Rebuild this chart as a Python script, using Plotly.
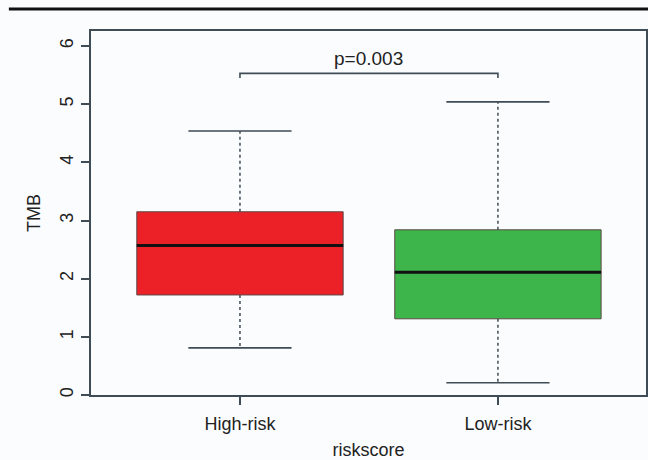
import plotly.graph_objects as go

# Tumour mutational burden by risk group (summary statistics per group)
groups = ["High-risk", "Low-risk"]
positions = [1, 2]
lower_whisker = [0.81, 0.21]
q1 = [1.72, 1.31]
median = [2.57, 2.11]
q3 = [3.15, 2.84]
upper_whisker = [4.54, 5.04]
fill_colors = ["#ec2027", "#3eb54a"]

# Significance bracket between the two groups
p_label = "p=0.003"
bracket_y = 5.53
bracket_drop = 0.08
p_label_y = 5.78

y_ticks = [0, 1, 2, 3, 4, 5, 6]

box_width = 0.8
staple_width = 0.4
line_col = "#3f4b55"
text_col = "#222222"
bg = "#fbfcfe"
font_family = "Liberation Sans, Arial, Helvetica, sans-serif"

fig = go.Figure()

for i, g in enumerate(groups):
    x0 = positions[i]
    # dotted whiskers
    fig.add_trace(go.Scatter(
        x=[x0, x0, None, x0, x0],
        y=[q3[i], upper_whisker[i], None, q1[i], lower_whisker[i]],
        mode="lines", line=dict(color=line_col, width=1.5, dash="dot"),
        hoverinfo="skip", showlegend=False))
    # staples
    fig.add_trace(go.Scatter(
        x=[x0 - staple_width / 2, x0 + staple_width / 2, None,
           x0 - staple_width / 2, x0 + staple_width / 2],
        y=[upper_whisker[i], upper_whisker[i], None,
           lower_whisker[i], lower_whisker[i]],
        mode="lines", line=dict(color=line_col, width=1.6),
        hoverinfo="skip", showlegend=False))
    # box body
    fig.add_trace(go.Box(
        x=[x0], q1=[q1[i]], median=[median[i]], q3=[q3[i]],
        lowerfence=[q1[i]], upperfence=[q3[i]],
        width=box_width, fillcolor=fill_colors[i],
        line=dict(color="#5a4a48", width=1), whiskerwidth=0,
        name=g, showlegend=False, boxpoints=False))
    # heavy median line
    fig.add_trace(go.Scatter(
        x=[x0 - box_width / 2, x0 + box_width / 2],
        y=[median[i], median[i]],
        mode="lines", line=dict(color="#111111", width=3),
        hoverinfo="skip", showlegend=False))

# bracket with p-value
fig.add_trace(go.Scatter(
    x=[positions[0], positions[0], positions[1], positions[1]],
    y=[bracket_y - bracket_drop, bracket_y, bracket_y, bracket_y - bracket_drop],
    mode="lines", line=dict(color=line_col, width=1.6),
    hoverinfo="skip", showlegend=False))
fig.add_annotation(x=(positions[0] + positions[1]) / 2, y=p_label_y,
                   text=p_label, showarrow=False,
                   font=dict(size=19, color=text_col, family=font_family))

# page rule above the figure
fig.add_shape(type="line", xref="paper", yref="paper",
              x0=-0.148, x1=1.01, y0=1.0 + 22 / 364, y1=1.0 + 22 / 364,
              line=dict(color="#111111", width=3))

fig.update_layout(
    width=648, height=460,
    margin=dict(l=91, r=2, t=31, b=65),
    paper_bgcolor=bg, plot_bgcolor=bg,
    font=dict(family=font_family, size=18, color=text_col),
    xaxis=dict(
        range=[0.4225, 2.574], tickmode="array", tickvals=positions,
        ticktext=groups, showgrid=False, zeroline=False, automargin=False,
        showline=True, mirror=True, linecolor=line_col, linewidth=1.6,
        ticks="outside", ticklen=8, tickcolor=line_col, tickwidth=1.6,
        ticklabelstandoff=4,
        tickfont=dict(size=18),
        title=dict(text="riskscore", font=dict(size=18), standoff=11)),
    yaxis=dict(
        range=[0, 6.258], tickmode="array", tickvals=y_ticks,
        showgrid=False, zeroline=False, tickangle=-90, automargin=False,
        showline=True, mirror=True, linecolor=line_col, linewidth=1.6,
        ticks="outside", ticklen=8, tickcolor=line_col, tickwidth=1.6,
        ticklabelstandoff=1,
        tickfont=dict(size=18),
        title=dict(text="TMB", font=dict(size=18), standoff=12)),
)

fig.write_html("out.html")
